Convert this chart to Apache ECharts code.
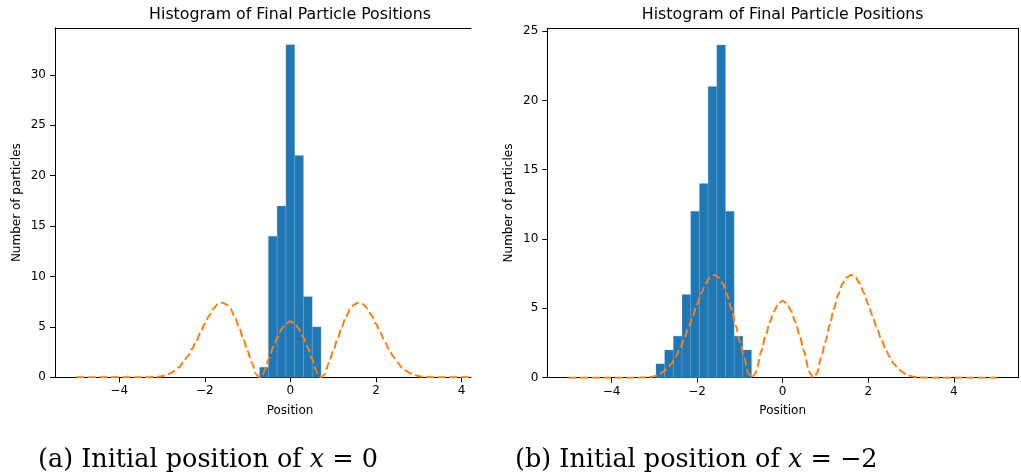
<!DOCTYPE html>
<html>
<head>
<meta charset="utf-8">
<script src="https://cdn.jsdelivr.net/npm/echarts@6/dist/echarts.min.js"></script>
<style>
html,body{margin:0;padding:0;background:#fff;}
#c{width:1021px;height:476px;}
</style>
</head>
<body>
<div id="c"></div>
<script>
// ---- data ----
const titleText = 'Histogram of Final Particle Positions';
const xName = 'Position';
const yName = 'Number of particles';
const captionA = '(a) Initial position of {i|x} = 0';
const captionB = '(b) Initial position of {i|x} = \u22122';

const xTicks = [-4, -2, 0, 2, 4];
const leftYTicks = [0, 5, 10, 15, 20, 25, 30];
const rightYTicks = [0, 5, 10, 15, 20, 25];

// histogram (a): bin edges and counts
const leftEdges = [-0.72, -0.515, -0.31, -0.105, 0.10, 0.305, 0.51, 0.715];
const leftCounts = [1, 14, 17, 33, 22, 8, 5];

// histogram (b): bin edges and counts
const rightEdges = [-2.96, -2.757, -2.554, -2.351, -2.148, -1.945, -1.742, -1.539, -1.336, -1.133, -0.93, -0.727];
const rightCounts = [1, 2, 3, 6, 12, 14, 21, 24, 12, 3, 2];

// dashed reference curve
const curveX = [-5.0, -3.6, -3.4, -3.2, -3.1, -3.0, -2.9, -2.8, -2.7, -2.6, -2.5, -2.4, -2.3, -2.2, -2.1, -2.0,
  -1.9, -1.8, -1.7, -1.6, -1.5, -1.4, -1.3, -1.2, -1.1, -1.0, -0.9, -0.8, -0.72, -0.64, -0.6, -0.5, -0.4, -0.3,
  -0.2, -0.1, 0.0, 0.1, 0.2, 0.3, 0.4, 0.5, 0.6, 0.64, 0.72, 0.8, 0.9, 1.0, 1.1, 1.2, 1.3, 1.4, 1.5, 1.6, 1.7,
  1.8, 1.9, 2.0, 2.1, 2.2, 2.3, 2.4, 2.5, 2.6, 2.7, 2.8, 2.9, 3.0, 3.1, 3.2, 3.4, 3.6, 5.0];
const curveY = [0, 0, 0, 0.02, 0.05, 0.11, 0.22, 0.4, 0.65, 1.0, 1.5, 2.1, 2.8, 3.6, 4.45, 5.3,
  6.1, 6.8, 7.25, 7.4, 7.25, 6.8, 6.0, 5.0, 3.8, 2.6, 1.45, 0.3, 0, 0.3, 0.7, 1.9, 3.0, 4.0,
  4.8, 5.35, 5.55, 5.35, 4.8, 4.0, 3.0, 1.9, 0.7, 0.3, 0, 0.3, 1.45, 2.6, 3.8, 5.0, 6.0, 6.8, 7.25, 7.4, 7.25,
  6.8, 6.1, 5.3, 4.45, 3.6, 2.8, 2.1, 1.5, 1.0, 0.65, 0.4, 0.22, 0.11, 0.05, 0.02, 0, 0, 0];

// ---- build ----
function bins(edges, counts) {
  return counts.map((c, i) => [edges[i], edges[i + 1], c]);
}
const curve = curveX.map((x, i) => [x, curveY[i]]);
const fmt = v => (v < 0 ? '\u2212' + Math.abs(v) : String(v));
const FONT = 'DejaVu Sans';
const BLUE = '#1f77b4';
const ORANGE = '#ff7f0e';

function renderBar(params, api) {
  const p0 = api.coord([api.value(0), api.value(2)]);
  const p1 = api.coord([api.value(1), 0]);
  return {
    type: 'rect',
    shape: { x: p0[0], y: p0[1], width: p1[0] - p0[0], height: p1[1] - p0[1] },
    style: { fill: BLUE, stroke: 'rgba(120,170,215,0.6)', lineWidth: 0.5 }
  };
}

function bottomX(grid, min, max) {
  return {
    type: 'value', gridIndex: grid, min: min, max: max, position: 'bottom',
    axisLine: { show: true, onZero: false, lineStyle: { color: '#000', width: 1 } },
    axisTick: { show: true, customValues: xTicks, length: 5, lineStyle: { color: '#000', width: 1 } },
    axisLabel: { show: true, customValues: xTicks, formatter: fmt, margin: 8, fontSize: 12, color: '#000', fontFamily: FONT },
    splitLine: { show: false }
  };
}
function topX(grid, min, max) {
  return {
    type: 'value', gridIndex: grid, min: min, max: max, position: 'top',
    axisLine: { show: true, onZero: false, lineStyle: { color: '#000', width: 1 } },
    axisTick: { show: false }, axisLabel: { show: false }, splitLine: { show: false }
  };
}
function leftY(grid, max, ticks) {
  return {
    type: 'value', gridIndex: grid, min: 0, max: max, position: 'left',
    name: yName, nameLocation: 'middle', nameGap: 32,
    nameTextStyle: { fontSize: 12, color: '#000', fontFamily: FONT },
    axisLine: { show: true, onZero: false, lineStyle: { color: '#000', width: 1 } },
    axisTick: { show: true, customValues: ticks, length: 5, lineStyle: { color: '#000', width: 1 } },
    axisLabel: { show: true, customValues: ticks, margin: 9, fontSize: 12, color: '#000', fontFamily: FONT },
    splitLine: { show: false }
  };
}
function rightY(grid, max) {
  return {
    type: 'value', gridIndex: grid, min: 0, max: max, position: 'right',
    axisLine: { show: true, onZero: false, lineStyle: { color: '#000', width: 1 } },
    axisTick: { show: false }, axisLabel: { show: false }, splitLine: { show: false }
  };
}
function txt(text, left, top, size, family, rich) {
  return {
    text: text, left: left, top: top, padding: 0, textAlign: rich ? 'left' : 'center',
    textStyle: { fontFamily: family, fontSize: size, fontWeight: 'normal', color: '#000', lineHeight: size * 1.2, rich: rich || {} }
  };
}
const serifRich = { i: { fontFamily: 'DejaVu Serif', fontStyle: 'italic', fontSize: 25.5, color: '#000' } };

const chart = echarts.init(document.getElementById('c'), null, { renderer: 'canvas' });
chart.setOption({
  animation: false,
  backgroundColor: '#fff',
  title: [
    txt(titleText, 290, 5, 15.8, FONT),
    txt(titleText, 782.7, 5, 15.8, FONT),
    txt(xName, 290, 404, 12, FONT),
    txt(xName, 782.7, 404, 12, FONT),
    txt(captionA, 38, 445, 25.5, 'DejaVu Serif', serifRich),
    txt(captionB, 515, 445, 25.5, 'DejaVu Serif', serifRich)
  ],
  grid: [
    { left: 55, top: 28, width: 416, height: 349.3 },
    { left: 547.3, top: 28.3, width: 470.7, height: 349.4 }
  ],
  xAxis: [
    bottomX(0, -5.5, 4.22),
    topX(0, -5.5, 4.22),
    bottomX(1, -5.5, 5.5),
    topX(1, -5.5, 5.5)
  ],
  yAxis: [
    leftY(0, 34.65, leftYTicks),
    leftY(1, 25.2, rightYTicks),
    rightY(1, 25.2)
  ],
  series: [
    { type: 'custom', xAxisIndex: 0, yAxisIndex: 0, renderItem: renderBar, encode: { x: [0, 1], y: 2 }, data: bins(leftEdges, leftCounts), z: 2 },
    { type: 'line', xAxisIndex: 0, yAxisIndex: 0, data: curve, showSymbol: false, smooth: 0.3, smoothMonotone: 'x',
      lineStyle: { color: ORANGE, width: 2, type: [8, 3.5] }, z: 3 },
    { type: 'custom', xAxisIndex: 2, yAxisIndex: 1, renderItem: renderBar, encode: { x: [0, 1], y: 2 }, data: bins(rightEdges, rightCounts), z: 2 },
    { type: 'line', xAxisIndex: 2, yAxisIndex: 1, data: curve, showSymbol: false, smooth: 0.3, smoothMonotone: 'x',
      lineStyle: { color: ORANGE, width: 2, type: [8, 3.5] }, z: 3 }
  ]
});
</script>
</body>
</html>
